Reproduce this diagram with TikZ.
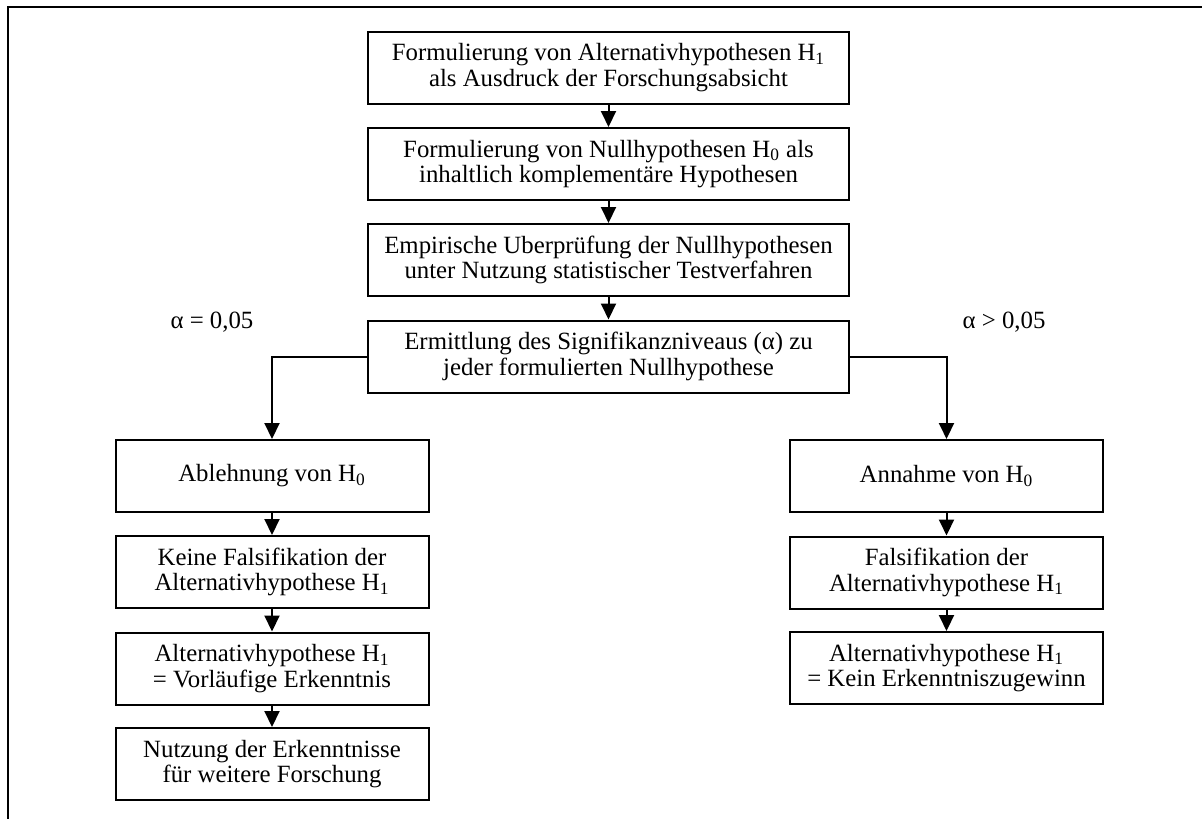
\documentclass[tikz,border=0pt]{standalone}
\usepackage{fontspec}
\setmainfont{Liberation Serif}
\usepackage{tikz}
\usetikzlibrary{arrows.meta}
\usetikzlibrary{positioning}
\tikzstyle{mainbox} = [draw, line width=1pt, minimum width=240.5pt, minimum height=36pt, align=center, inner sep=2pt, font=\fontsize{12.4}{12.6}\selectfont]
\tikzstyle{sidebox} = [mainbox, minimum width=156.5pt]
\tikzstyle{flow} = [-{Triangle[length=8pt, width=7.5pt]}, line width=1pt]

\begin{document}
\begin{tikzpicture}[x=0.5pt, y=-0.5pt]
            \useasboundingbox (0,0) rectangle (1202,819);
            % Frame
            \draw[line width=1.1pt] (1202,7) -- (8,7) -- (8,819);

            % Nodes
            \node[mainbox] (althyp) at (608.5, 67.5) {Formulierung von Alternativhypothesen H\textsubscript{1} \\ als Ausdruck der Forschungsabsicht};
            \node[mainbox] (nullhyp) at (608.5, 164) {Formulierung von Nullhypothesen H\textsubscript{0} als \\ inhaltlich komplementäre Hypothesen};
            \node[mainbox] (test) at (608.5, 260) {Empirische Uberprüfung der Nullhypothesen \\ unter Nutzung statistischer Testverfahren};
            \node[mainbox] (signif) at (608.5, 356.5) {Ermittlung des Signifikanzniveaus (α) zu \\ jeder formulierten Nullhypothese};

            \node[sidebox] (reject) at (272, 476) {Ablehnung von H\textsubscript{0}};
            \node[sidebox] (nofals) at (272, 572) {Keine Falsifikation der \\ Alternativhypothese H\textsubscript{1}};
            \node[sidebox] (prelim) at (272, 668.5) {Alternativhypothese H\textsubscript{1} \\ = Vorläufige Erkenntnis};
            \node[sidebox] (usage) at (272, 764) {Nutzung der Erkenntnisse \\ für weitere Forschung};

            \node[sidebox] (accept) at (946.5, 476) {Annahme von H\textsubscript{0}};
            \node[sidebox] (fals) at (946.5, 572.5) {Falsifikation der \\ Alternativhypothese H\textsubscript{1}};
            \node[sidebox] (nogain) at (946.5, 668) {Alternativhypothese H\textsubscript{1} \\ = Kein Erkenntniszugewinn};

            \node[font=\fontsize{12.4}{12.6}\selectfont] (alphaeq) at (212, 322) {α = 0,05};
            \node[font=\fontsize{12.4}{12.6}\selectfont] (alphagt) at (1004, 322) {α > 0,05};

            % Connecting lines
            \draw[flow] (althyp) -- (nullhyp);
            \draw[flow] (nullhyp) -- (test);
            \draw[flow] (test) -- (signif);
            \draw[flow] (signif.west) -| (reject.north);
            \draw[flow] (signif.east) -| (accept.north);
            \draw[flow] (reject) -- (nofals);
            \draw[flow] (nofals) -- (prelim);
            \draw[flow] (prelim) -- (usage);
            \draw[flow] (accept) -- (fals);
            \draw[flow] (fals) -- (nogain);
        \end{tikzpicture}
\end{document}
